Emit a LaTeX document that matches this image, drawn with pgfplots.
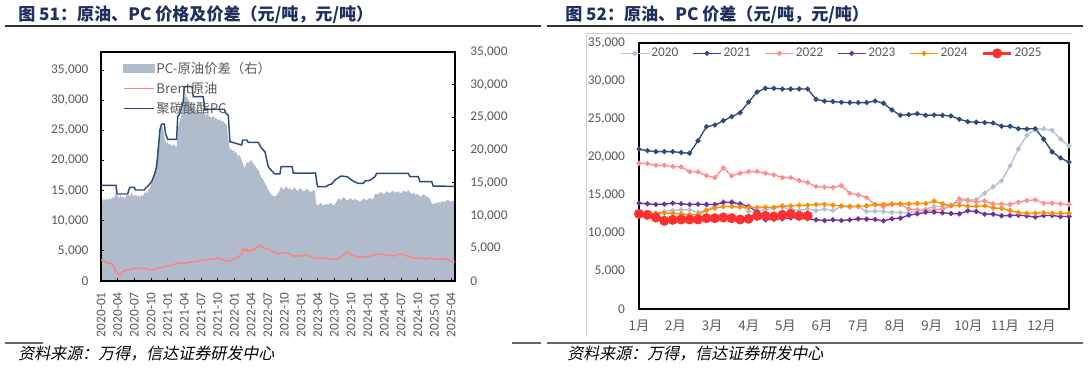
\documentclass[border=0pt]{standalone}
\usepackage{fontspec}
\setmainfont{Carlito}
\newfontfamily\cjk{Noto Sans CJK SC}
\newfontfamily\cjksl[FakeSlant=0.2]{Noto Sans CJK SC}
\usepackage{pgfplots}
\usepackage{pgfplotstable}
\pgfplotsset{compat=1.18}
\pgfplotsset{scaled ticks=false}
\definecolor{tickgray}{HTML}{595959}
\definecolor{areagray}{HTML}{B0BBCC}
\definecolor{pcnavy}{HTML}{2C4A7E}
\definecolor{brent}{HTML}{FF8080}
\definecolor{titlenavy}{HTML}{1F2F5E}
\definecolor{c2020}{HTML}{B3C1D6}
\definecolor{c2021}{HTML}{2E4A7D}
\definecolor{c2022}{HTML}{FF8F8F}
\definecolor{c2023}{HTML}{7030A0}
\definecolor{c2024}{HTML}{FF8C00}
\definecolor{c2025}{HTML}{FF3030}

\pgfplotstableread{
w a20 a21 a22 a23 a24 a25
0 12500 21030 19180 13930 12520 12520
1 12600 20840 19130 13840 12520 12390
2 12610 20710 18920 13750 12610 12040
3 12830 20710 18920 13790 12610 11600
4 12960 20710 18740 13930 12610 11730
5 13050 20580 18700 13840 12520 11780
6 13050 20500 18080 13750 12430 11780
7 12740 22150 18040 13790 12430 11780
8 13050 23990 17560 13750 12960 11950
9 13480 24210 17290 13750 13270 11950
10 14140 24780 18570 14010 13480 12040
11 14140 25310 17520 14010 13480 11950
12 13700 25830 17870 13840 13400 11780
13 12830 27240 18080 13480 13350 11870
14 12830 28550 18080 12830 13350 12260
15 13050 29040 17870 11730 13400 12260
16 13270 29040 17650 11800 13400 12170
17 13400 28950 17290 11870 13570 12390
18 13140 28950 17290 12000 13570 12520
19 12960 28950 16900 12000 13660 12260
20 13140 28950 16640 11870 13660 12260
21 12960 27590 16110 11730 13750 nan
22 13140 27350 16030 11650 13790 nan
23 12960 27300 16000 11730 13660 nan
24 13490 27200 16240 11650 13570 nan
25 13400 27160 15240 11730 13530 nan
26 13490 27160 15020 11870 13530 nan
27 12830 27160 14670 11830 13570 nan
28 12870 27370 13700 11780 13750 nan
29 12830 27070 13490 11600 13750 nan
30 12700 26190 13750 11870 13840 nan
31 12700 25490 13750 11950 13840 nan
32 12700 25570 13180 12350 13840 nan
33 12830 25700 13050 12520 13880 nan
34 13140 25490 12960 12740 13880 nan
35 13490 25530 13050 12740 14190 nan
36 13490 25490 13140 12650 13840 nan
37 13700 25400 13570 12570 13570 nan
38 14140 24970 14530 12520 13660 nan
39 14360 24650 14270 12920 13530 nan
40 14400 24570 14100 12830 13530 nan
41 15240 24530 14230 12480 13570 nan
42 16070 24480 13840 12480 13310 nan
43 16860 24050 13800 12260 13230 nan
44 18830 24050 13750 12300 12960 nan
45 21060 23730 14060 12350 12690 nan
46 22860 23690 14270 12260 12610 nan
47 23650 23730 14360 12090 12610 nan
48 23690 22340 13930 12300 12690 nan
49 23520 20670 13930 12300 12610 nan
50 22340 19880 13840 12170 12610 nan
51 21460 19320 13750 12170 12610 nan
}\yeartable

\begin{document}
\begin{tikzpicture}
\path[use as bounding box] (0pt,0pt) rectangle (816pt,-276pt);
% titles
\node[anchor=west, text=titlenavy, font=\cjk\bfseries\fontsize{12.8}{14}\selectfont, inner sep=0pt] at (13.5pt,-11.25pt) {图 51：原油、PC 价格及价差（元/吨，元/吨）};
\node[anchor=west, text=titlenavy, font=\cjk\bfseries\fontsize{12.8}{14}\selectfont, inner sep=0pt] at (423.75pt,-11.25pt) {图 52：原油、PC 价差（元/吨，元/吨）};
\draw[line width=1pt, black!80] (3.75pt,-19.5pt) -- (405.75pt,-19.5pt);
\draw[line width=1pt, black!80] (410.25pt,-19.5pt) -- (812.25pt,-19.5pt);
% bottom rules
\draw[line width=1.2pt, black!60] (3.75pt,-257.25pt) -- (32.25pt,-257.25pt);
\draw[line width=1.2pt, black!60] (384pt,-257.25pt) -- (405.75pt,-257.25pt);
\draw[line width=1.2pt, black!60] (410.25pt,-257.25pt) -- (812.25pt,-257.25pt);
\node[anchor=west, font=\cjksl\fontsize{12}{14}\selectfont, inner sep=0pt] at (13.5pt,-265pt) {资料来源：万得，信达证券研发中心};
\node[anchor=west, font=\cjksl\fontsize{12}{14}\selectfont, inner sep=0pt] at (425.25pt,-265pt) {资料来源：万得，信达证券研发中心};
% right chart outer border
\draw[line width=0.6pt, black!18] (439.5pt,-252.75pt) -- (439.5pt,-24.75pt) -- (804pt,-24.75pt);

% LEFT CHART: spread area on right axis
\begin{axis}[at={(75.75pt,-210.75pt)}, anchor=south west, scale only axis,
  width=265.5pt, height=171.75pt,
  xmin=0, xmax=63.7, ymin=0, ymax=35000,
  axis x line=none, axis y line*=right,
  tick align=inside, major tick length=2.5pt,
  ytick={0,5000,10000,15000,20000,25000,30000,35000},
  yticklabels={0,{5,000},{10,000},{15,000},{20,000},{25,000},{30,000},{35,000}},
  y axis line style={black, line width=0.8pt},
  ytick style={black, line width=0.6pt},
  yticklabel style={text=tickgray, font=\fontsize{10}{12}\selectfont, anchor=west},
  yticklabel shift=8pt,
]
\addplot[fill=areagray, draw=none] coordinates {
(0,12480) (0.3,12200) (0.5,12600) (0.8,12350) (1,12630) (1.3,12300) (1.5,12700) (1.8,12450) (2,12800) (2.3,12600) (2.5,12990) (2.8,13650) (3.0,12900) (3.3,12600) (3.5,13100) (3.8,12700) (4,12900) (4.3,12600) (4.5,13000) (4.9,13200) (5.2,12900) (5.5,13500) (5.8,13100) (6.0,12900) (6.3,13300) (6.5,12900) (6.8,13100) (7,12800) (7.3,13200) (7.5,12900) (7.8,13400) (8,13600) (8.3,13400) (8.5,13910) (8.8,14200) (9.0,14800) (9.3,15300) (9.5,15900) (9.8,17000) (10.0,18490) (10.3,21290) (10.6,23580) (10.9,23840) (11.2,23200) (11.5,21550) (11.8,21040) (12.0,21300) (12.2,20800) (12.5,21000) (12.7,20630) (13.0,20900) (13.2,20700) (13.6,20500) (13.9,23580) (14.1,24300) (14.4,25110) (14.6,26200) (14.8,27160) (15.0,28000) (15.2,28690) (15.4,27900) (15.5,28200) (15.7,27660) (16.0,27400) (16.3,26640) (16.6,26900) (16.9,25870) (17.2,26300) (17.5,26000) (17.8,25700) (18.1,25620) (18.5,25800) (18.8,25300) (19.0,25500) (19.3,25370) (19.6,25100) (19.8,25000) (20.2,25200) (20.5,24860) (20.8,24900) (21.0,24600) (21.4,24700) (21.7,24340) (22.0,24500) (22.2,24200) (22.6,23840) (22.9,21550) (23.2,20020) (23.4,20300) (23.6,19800) (23.9,20100) (24.1,19510) (24.4,19700) (24.6,19000) (24.9,19300) (25.3,18490) (25.6,17800) (25.9,17220) (26.2,18200) (26.5,17980) (26.8,18300) (27.1,18490) (27.4,17900) (27.7,17700) (28.0,17300) (28.3,16960) (28.6,16400) (28.9,15690) (29.2,15500) (29.5,14930) (29.8,14500) (30.1,13910) (30.4,13500) (30.7,13140) (31.0,13000) (31.2,12880) (31.6,13100) (32.0,13600) (32.3,14200) (32.5,14410) (32.8,14000) (33.0,14100) (33.3,14500) (33.5,14300) (33.8,14000) (34.0,14200) (34.3,13900) (34.5,14000) (34.8,14300) (35.0,14100) (35.3,13800) (35.5,13900) (35.8,14200) (36.1,14000) (36.4,13700) (36.7,13800) (37.0,14100) (37.3,13900) (37.6,13600) (37.9,13700) (38.2,13900) (38.5,13650) (38.7,11870) (38.9,11600) (39.2,11700) (39.5,11900) (39.7,11800) (40.0,11500) (40.3,11650) (40.6,11800) (40.9,11620) (41.2,11900) (41.5,11800) (41.8,11600) (42.1,11700) (42.5,12300) (42.7,12630) (43.0,12400) (43.3,12500) (43.6,12800) (43.9,12700) (44.2,12300) (44.5,12400) (44.8,12700) (45.1,12480) (45.4,12300) (45.7,12600) (46.0,12400) (46.3,12300) (46.6,12100) (46.9,12300) (47.2,12600) (47.5,12500) (47.8,12300) (48.1,12600) (48.4,12700) (48.7,12480) (49.1,12700) (49.3,13400) (49.6,13200) (49.9,13300) (50.2,13600) (50.5,13500) (50.8,13300) (51.1,13400) (51.4,13700) (51.7,13600) (52.0,13400) (52.3,13650) (52.6,13800) (52.9,13500) (53.2,13600) (53.5,13700) (53.8,13400) (54.1,13500) (54.4,13800) (54.7,13700) (55.0,13600) (55.3,13910) (55.6,13500) (56.0,13300) (56.3,13500) (56.5,13140) (56.8,13300) (57.1,13200) (57.4,12900) (57.7,13000) (58.0,13300) (58.3,13100) (58.6,12900) (58.9,12800) (59.2,12600) (59.5,11870) (59.8,11700) (60.1,12000) (60.4,11800) (60.7,12100) (61.0,11900) (61.3,12200) (61.6,12000) (61.9,12150) (62.2,12300) (62.5,12400) (62.8,12100) (63.1,12300) (63.4,12200) (63.7,12480)
} \closedcycle;
\end{axis}

% LEFT CHART: lines on left axis
\begin{axis}[at={(75.75pt,-210.75pt)}, anchor=south west, scale only axis,
  width=265.5pt, height=171.75pt,
  xmin=0, xmax=63.7, ymin=0, ymax=38000,
  axis line style={black, line width=0.8pt},
  tick pos=left, tick align=inside, major tick length=2.5pt,
  tick style={black, line width=0.6pt},
  xtick={0,3,...,63},
  xticklabels={2020-01,2020-04,2020-07,2020-10,2021-01,2021-04,2021-07,2021-10,2022-01,2022-04,2022-07,2022-10,2023-01,2023-04,2023-07,2023-10,2024-01,2024-04,2024-07,2024-10,2025-01,2025-04},
  xticklabel style={rotate=90, anchor=east, text=tickgray, font=\fontsize{10}{12}\selectfont},
  xticklabel shift=5pt,
  ytick={0,5000,10000,15000,20000,25000,30000,35000},
  yticklabels={0,{5,000},{10,000},{15,000},{20,000},{25,000},{30,000},{35,000}},
  yticklabel style={text=tickgray, font=\fontsize{10}{12}\selectfont},
  yticklabel shift=6pt,
  legend image code/.code={\draw[#1] (0pt,0pt) -- (23pt,0pt);},
  legend style={at={(0.05,0.975)}, anchor=north west, draw=none, fill=none,
    font=\cjk\fontsize{10}{12}\selectfont, text=tickgray, row sep=3pt,
    nodes={inner sep=1pt}},
  legend cell align=left,
]
\addlegendimage{legend image code/.code={\fill[areagray] (0pt,-3pt) rectangle (23pt,3pt);}}
\addlegendentry{PC-原油价差（右）}
\addplot[brent, line width=1.1pt] coordinates {
(0,3480) (0.5,3300) (1,3150) (1.3,2930) (1.6,3000) (2.0,2700) (2.2,2550) (2.5,1830) (2.8,1500) (3.1,1200) (3.4,1000) (3.7,1300) (4.0,1600) (4.3,1750) (4.9,1850) (5.5,2000) (6.1,2100) (6.7,2050) (7.3,2150) (7.9,2080) (8.5,1950) (9.1,1900) (9.7,1950) (10.3,2100) (10.9,2270) (11.5,2400) (12.1,2500) (12.7,2650) (13.3,2800) (13.9,2950) (14.5,3050) (15.1,2950) (15.7,3100) (16.3,3150) (16.9,3250) (17.5,3300) (18.1,3480) (18.7,3400) (19.3,3550) (19.9,3650) (20.5,3700) (21.1,3800) (21.7,3650) (22.3,3400) (22.9,3250) (23.5,3500) (24.1,3760) (24.7,4000) (25.3,4500) (25.6,5400) (25.9,5000) (26.2,5300) (26.5,4800) (26.8,5100) (27.4,5200) (28.0,5500) (28.6,5850) (29.0,5700) (29.5,5400) (30.0,5300) (30.4,5100) (31.0,4800) (31.6,4650) (32.2,4500) (32.8,4700) (33.4,4750) (34.0,4500) (34.6,4100) (35.2,4200) (35.8,4100) (36.4,4250) (37.0,4300) (37.6,4150) (38.2,3850) (38.8,3760) (39.4,3800) (40.0,3700) (40.6,3850) (41.2,3700) (41.8,3600) (42.4,3650) (43.0,3900) (43.6,4300) (44.2,4800) (44.8,4500) (45.4,4250) (46.0,4050) (46.6,3950) (47.2,4000) (47.8,4100) (48.4,4150) (49.0,4300) (49.6,4400) (50.2,4550) (50.8,4450) (51.4,4300) (52.0,4200) (52.6,4150) (53.2,4300) (53.8,4450) (54.4,4350) (55.0,4200) (55.6,4000) (56.2,3800) (56.8,3750) (57.4,3850) (58.0,3700) (58.6,3650) (59.2,3800) (59.8,3700) (60.4,3550) (61.0,3600) (61.6,3700) (62.2,3550) (62.8,3400) (63.2,3250) (63.7,3200)
};
\addlegendentry{Brent原油}
\addplot[pcnavy, line width=1.1pt] coordinates {
(0,15880) (2.7,15880) (2.9,14440) (4.8,14440) (5.0,15100) (5.2,15550) (6.0,15550) (6.2,15100) (7.8,15100) (8.0,15400) (8.5,15800) (9.1,16480) (9.7,17870) (10.0,18970) (10.3,21740) (10.6,25060) (10.9,26050) (11.4,26050) (11.6,24510) (12.0,23510) (13.6,23510) (13.8,27270) (14.2,27830) (14.8,29760) (15.0,32250) (16.4,32250) (16.6,30580) (18.4,30580) (18.7,28500) (22.2,28500) (22.5,27800) (22.9,27500) (23.2,23120) (25.3,22570) (25.5,23400) (26.2,23400) (26.5,23000) (28.3,23000) (28.9,22020) (29.5,21460) (30.1,18970) (30.7,18300) (31.3,17760) (32.2,17760) (32.4,18970) (34.4,18970) (34.6,17900) (38.6,17900) (38.8,16480) (39.0,15650) (40.5,15650) (40.9,15930) (41.5,16100) (42.1,16760) (43.2,17420) (44.3,17300) (45.1,16760) (45.7,16430) (46.3,16210) (47.2,16210) (47.5,16600) (48.4,16700) (49.3,17310) (49.6,17870) (55.3,17870) (55.6,17310) (57.1,17310) (57.4,16480) (59.5,16480) (59.8,15760) (63.7,15700)
};
\addlegendentry{聚碳酸酯PC}
\end{axis}

% RIGHT CHART
\begin{axis}[at={(479.25pt,-231.75pt)}, anchor=south west, scale only axis,
  width=322.5pt, height=199.5pt,
  xmin=0, xmax=51, ymin=0, ymax=35000,
  axis line style={black, line width=0.8pt},
  major tick length=0pt,
  xtick={0,4.34,8.68,13.02,17.36,21.7,26.04,30.38,34.72,39.06,43.4,47.74},
  xticklabels={1月,2月,3月,4月,5月,6月,7月,8月,9月,10月,11月,12月},
  xticklabel style={text=tickgray, font=\cjk\fontsize{10}{12}\selectfont},
  xticklabel shift=5pt,
  ytick={0,5000,10000,15000,20000,25000,30000,35000},
  yticklabels={0,{5,000},{10,000},{15,000},{20,000},{25,000},{30,000},{35,000}},
  yticklabel style={text=tickgray, font=\fontsize{10}{12}\selectfont},
  yticklabel shift=7pt,
  legend columns=6,
  legend image code/.code={\draw[mark repeat=2,mark phase=2,#1] plot coordinates {(0pt,0pt) (10.5pt,0pt) (21pt,0pt)};},
  legend style={at={(-0.045,0.961)}, anchor=west, draw=none, fill=none,
    font=\fontsize{10}{12}\selectfont, text=tickgray, inner sep=0pt,
    /tikz/every even column/.append style={column sep=9pt},
    nodes={inner sep=1.5pt}},
]
\addplot[c2020, line width=1pt, mark=*, mark size=1.4pt] table[x=w, y=a20] {\yeartable};
\addlegendentry{2020}
\addplot[c2021, line width=1pt, mark=*, mark size=1.4pt] table[x=w, y=a21] {\yeartable};
\addlegendentry{2021}
\addplot[c2022, line width=1pt, mark=*, mark size=1.4pt] table[x=w, y=a22] {\yeartable};
\addlegendentry{2022}
\addplot[c2023, line width=1pt, mark=*, mark size=1.4pt] table[x=w, y=a23] {\yeartable};
\addlegendentry{2023}
\addplot[c2024, line width=1pt, mark=*, mark size=1.4pt] table[x=w, y=a24] {\yeartable};
\addlegendentry{2024}
\addplot[c2025, line width=2.2pt, mark=*, mark size=2.6pt] table[x=w, y=a25] {\yeartable};
\addlegendentry{2025}
\end{axis}
\end{tikzpicture}
\end{document}
